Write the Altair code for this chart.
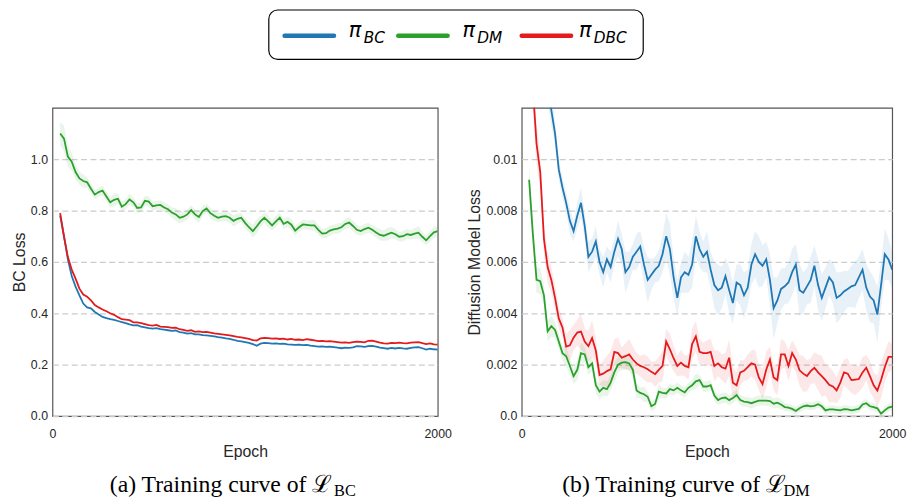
import altair as alt
import pandas as pd

# ---------------- data ----------------
EPOCHS = list(range(40, 2001, 20))
SERIES = ["BC", "DM", "DBC"]
COLORS = ["#1f77b4", "#2ca02c", "#e41a1c"]

# (a) BC loss
BC_LOSS_BC = [0.78, 0.70, 0.61, 0.545, 0.504, 0.47, 0.438, 0.423, 0.419, 0.405,
              0.395, 0.386, 0.381, 0.377, 0.374, 0.37, 0.366, 0.362, 0.357, 0.353,
              0.354, 0.348, 0.345, 0.342, 0.34, 0.342, 0.338, 0.336, 0.334, 0.332,
              0.333, 0.327, 0.325, 0.321, 0.323, 0.318, 0.318, 0.315, 0.314, 0.312,
              0.31, 0.307, 0.305, 0.302, 0.30, 0.297, 0.293, 0.291, 0.288, 0.285,
              0.28, 0.274, 0.282, 0.285, 0.284, 0.282, 0.283, 0.281, 0.282, 0.279,
              0.278, 0.277, 0.278, 0.276, 0.277, 0.274, 0.272, 0.27, 0.271, 0.269,
              0.27, 0.268, 0.266, 0.264, 0.266, 0.265, 0.267, 0.272, 0.271, 0.269,
              0.272, 0.273, 0.27, 0.266, 0.264, 0.262, 0.265, 0.263, 0.265, 0.263,
              0.262, 0.265, 0.267, 0.268, 0.264, 0.259, 0.262, 0.26, 0.259]
BC_LOSS_DM = [1.10, 1.08, 1.01, 0.99, 0.95, 0.925, 0.915, 0.91, 0.885, 0.862,
              0.872, 0.878, 0.855, 0.832, 0.842, 0.846, 0.815, 0.825, 0.843, 0.832,
              0.81, 0.812, 0.838, 0.835, 0.817, 0.82, 0.822, 0.812, 0.805, 0.792,
              0.785, 0.772, 0.776, 0.785, 0.802, 0.785, 0.775, 0.798, 0.808, 0.79,
              0.78, 0.772, 0.776, 0.778, 0.772, 0.76, 0.768, 0.772, 0.752, 0.735,
              0.72, 0.738, 0.758, 0.772, 0.758, 0.742, 0.758, 0.772, 0.748, 0.756,
              0.745, 0.722, 0.735, 0.746, 0.744, 0.742, 0.742, 0.725, 0.71, 0.712,
              0.722, 0.727, 0.73, 0.735, 0.748, 0.753, 0.74, 0.725, 0.72, 0.728,
              0.733, 0.725, 0.715, 0.705, 0.702, 0.708, 0.714, 0.708, 0.698, 0.70,
              0.708, 0.705, 0.71, 0.714, 0.698, 0.684, 0.70, 0.715, 0.72]
BC_LOSS_DBC = [0.79, 0.698, 0.619, 0.57, 0.535, 0.496, 0.473, 0.465, 0.45, 0.432,
               0.423, 0.415, 0.408, 0.40, 0.394, 0.385, 0.377, 0.375, 0.373, 0.365,
               0.365, 0.362, 0.358, 0.354, 0.352, 0.355, 0.348, 0.347, 0.346, 0.343,
               0.344, 0.338, 0.335, 0.332, 0.334, 0.328, 0.33, 0.327, 0.328, 0.325,
               0.322, 0.32, 0.318, 0.316, 0.314, 0.311, 0.308, 0.306, 0.303, 0.30,
               0.296, 0.294, 0.302, 0.304, 0.303, 0.301, 0.302, 0.30, 0.301, 0.298,
               0.30, 0.297, 0.298, 0.296, 0.299, 0.297, 0.295, 0.292, 0.293, 0.291,
               0.292, 0.29, 0.288, 0.286, 0.287, 0.285, 0.288, 0.29, 0.289, 0.287,
               0.293, 0.294, 0.29, 0.286, 0.283, 0.282, 0.285, 0.284, 0.286, 0.284,
               0.283, 0.286, 0.287, 0.288, 0.284, 0.28, 0.283, 0.279, 0.278]
BC_SPREAD_DM = [0.045, 0.05, 0.04, 0.035, 0.03, 0.025, 0.025, 0.02, 0.02, 0.018,
                0.018, 0.02, 0.018, 0.02, 0.025, 0.02, 0.018, 0.02, 0.022, 0.018,
                0.02, 0.018, 0.02, 0.02, 0.018, 0.016, 0.018, 0.02, 0.018, 0.02,
                0.025, 0.022, 0.02, 0.02, 0.018, 0.02, 0.022, 0.02, 0.018, 0.02,
                0.02, 0.018, 0.018, 0.02, 0.02, 0.022, 0.02, 0.018, 0.02, 0.02,
                0.025, 0.028, 0.022, 0.02, 0.025, 0.02, 0.022, 0.018, 0.02, 0.02,
                0.022, 0.02, 0.018, 0.02, 0.018, 0.02, 0.022, 0.02, 0.018, 0.02,
                0.02, 0.018, 0.02, 0.018, 0.02, 0.022, 0.02, 0.02, 0.018, 0.02,
                0.02, 0.018, 0.02, 0.022, 0.02, 0.025, 0.022, 0.02, 0.018, 0.02,
                0.02, 0.018, 0.022, 0.025, 0.02, 0.018, 0.02, 0.022, 0.02]

# (b) diffusion model loss, in units of 1e-3
DM_LOSS_BC = [25, 21, 18, 16, 14.5, 13, 11.9, 11.0, 9.6, 8.9,
              8.3, 7.6, 7.2, 7.8, 8.3, 7.4, 6.2, 6.4, 6.8, 6.0,
              5.6, 6.1, 5.8, 6.4, 6.9, 6.5, 5.6, 5.8, 6.2, 6.4,
              6.6, 5.9, 5.3, 5.5, 5.7, 5.85, 6.3, 7.0, 6.5, 5.4,
              4.6, 5.4, 5.6, 5.5, 5.9, 7.0, 6.5, 6.2, 6.4, 5.7,
              5.1, 4.9, 5.0, 5.45, 4.9, 4.4, 5.2, 5.1, 4.7, 5.0,
              5.9, 6.3, 6.0, 5.85, 6.1, 5.3, 4.2, 4.5, 4.95, 5.05,
              5.2, 5.6, 5.9, 4.9, 4.8, 5.05, 5.3, 5.85, 5.1, 4.6,
              5.0, 5.4, 5.2, 4.6, 4.7, 4.85, 4.95, 5.05, 5.1, 5.4,
              5.7, 5.0, 4.65, 4.5, 3.95, 5.1, 6.3, 6.1, 5.7]
DM_LOSS_DM = [9.2, 7.1, 5.3, 5.25, 4.7, 3.3, 3.5, 3.35, 2.9, 2.45,
              2.33, 1.95, 1.55, 1.8, 2.45, 2.4, 1.9, 2.05, 1.2, 0.95,
              1.1, 1.05, 1.3, 1.7, 2.0, 2.08, 2.1, 2.05, 1.8, 1.0,
              0.9, 0.85, 0.75, 0.38, 0.47, 0.95, 0.9, 0.88, 1.05, 1.0,
              1.1, 1.0, 0.92, 1.1, 1.2, 1.35, 1.4, 1.15, 1.15, 1.2,
              0.8, 0.62, 0.7, 0.72, 0.62, 0.7, 0.82, 0.62, 0.56, 0.54,
              0.5, 0.55, 0.6, 0.6, 0.6, 0.58, 0.48, 0.52, 0.45, 0.35,
              0.33, 0.28, 0.2, 0.3, 0.38, 0.41, 0.38, 0.4, 0.46, 0.38,
              0.22, 0.26, 0.26, 0.24, 0.22, 0.27, 0.26, 0.22, 0.25, 0.28,
              0.45, 0.5, 0.38, 0.35, 0.3, 0.09, 0.22, 0.33, 0.37]
DM_LOSS_DBC = [15.5, 12.8, 10.6, 9.5, 6.9, 5.8, 5.3, 4.6, 3.8, 3.45,
               2.7, 2.75, 3.05, 3.25, 3.29, 2.9, 2.72, 3.04, 2.55, 1.6,
               1.65, 1.75, 1.82, 2.5, 2.45, 2.27, 2.33, 2.4, 2.2, 2.05,
               1.95, 1.9, 1.82, 1.72, 1.63, 1.8, 1.95, 2.9, 2.6, 2.25,
               1.95, 2.08, 1.95, 1.9, 2.8, 3.1, 2.5, 2.45, 2.45, 2.5,
               1.95, 2.05, 1.9, 1.85, 2.27, 1.3, 1.2, 1.7, 1.76, 1.9,
               2.05, 2.0, 1.5, 1.24, 1.8, 2.2, 1.5, 1.4, 2.4, 2.4,
               1.95, 2.45, 2.2, 1.78, 1.65, 1.56, 1.75, 1.88, 1.7, 1.55,
               1.4, 1.22, 1.15, 1.0, 1.3, 1.7, 1.65, 1.4, 1.42, 1.44,
               1.7, 1.88, 1.55, 1.2, 0.99, 1.4, 1.9, 2.3, 2.3]
DM_SPREAD_BC = [0.8, 0.8, 0.8, 0.8, 0.8, 0.8, 0.6, 0.5, 0.4, 0.4,
                0.4, 0.5, 0.4, 0.5, 0.6, 0.5, 0.6, 0.5, 0.6, 0.5,
                0.6, 0.5, 0.6, 0.5, 0.7, 0.6, 0.8, 0.6, 0.5, 0.7,
                0.6, 0.7, 0.9, 0.6, 0.5, 0.6, 0.7, 0.9, 1.0, 0.8,
                0.7, 0.6, 0.8, 0.7, 0.9, 0.8, 0.7, 0.6, 0.8, 0.7,
                0.9, 1.0, 0.8, 0.7, 0.9, 0.8, 0.7, 0.8, 0.9, 0.7,
                0.8, 0.9, 1.0, 0.8, 0.7, 1.0, 1.2, 0.9, 0.8, 0.7,
                0.8, 0.9, 0.8, 1.0, 0.8, 0.7, 0.9, 0.8, 1.0, 0.9,
                0.8, 0.7, 0.8, 1.0, 0.9, 0.8, 0.7, 0.8, 0.9, 0.8,
                0.8, 0.9, 1.0, 0.9, 1.1, 0.9, 1.0, 0.8, 0.7]
DM_SPREAD_DM = [0.6, 0.5, 0.5, 0.5, 0.4, 0.4, 0.4, 0.3, 0.3, 0.3,
                0.4, 0.3, 0.3, 0.4, 0.4, 0.3, 0.3, 0.3, 0.3, 0.3,
                0.3, 0.3, 0.3, 0.4, 0.3, 0.3, 0.3, 0.3, 0.3, 0.3,
                0.2, 0.3, 0.2, 0.2, 0.2, 0.3, 0.2, 0.2, 0.2, 0.2,
                0.2, 0.2, 0.2, 0.2, 0.2, 0.3, 0.2, 0.2, 0.2, 0.2,
                0.2, 0.2, 0.2, 0.2, 0.2, 0.2, 0.2, 0.2, 0.2, 0.2,
                0.2, 0.2, 0.2, 0.2, 0.2, 0.2, 0.2, 0.2, 0.2, 0.15,
                0.15, 0.15, 0.15, 0.15, 0.15, 0.15, 0.15, 0.15, 0.15, 0.15,
                0.15, 0.15, 0.15, 0.15, 0.15, 0.15, 0.15, 0.15, 0.15, 0.15,
                0.15, 0.15, 0.15, 0.15, 0.15, 0.1, 0.15, 0.15, 0.15]
DM_SPREAD_DBC = [0.8, 0.8, 0.8, 0.7, 0.6, 0.6, 0.5, 0.5, 0.4, 0.4,
                 0.5, 0.6, 0.5, 0.5, 0.7, 0.5, 0.6, 0.7, 0.5, 0.4,
                 0.5, 0.6, 0.7, 0.5, 0.6, 0.4, 0.5, 0.6, 0.5, 0.4,
                 0.4, 0.5, 0.5, 0.4, 0.5, 0.5, 0.6, 0.5, 0.6, 0.5,
                 0.4, 0.5, 0.4, 0.5, 0.6, 0.6, 0.5, 0.4, 0.5, 0.5,
                 0.6, 0.5, 0.5, 0.6, 0.7, 0.6, 0.5, 0.5, 0.4, 0.5,
                 0.5, 0.6, 0.5, 0.6, 0.7, 0.5, 0.5, 0.6, 0.6, 0.5,
                 0.6, 0.5, 0.5, 0.6, 0.7, 0.6, 0.5, 0.6, 0.7, 0.8,
                 0.6, 0.7, 0.6, 0.5, 0.6, 0.5, 0.6, 0.5, 0.6, 0.5,
                 0.6, 0.5, 0.6, 0.5, 0.6, 0.7, 0.6, 0.6, 0.5]

CAPTIONS = ["(a) Training curve of \u2112", "(b) Training curve of \u2112"]
CAPTION_SUBS = ["BC", "DM"]
LEGEND_SYMBOL = "\u03c0"

# ---------------- tables ----------------
def long_table(series_values, spreads, scale=1.0):
    rows = []
    for s, vals in zip(SERIES, series_values):
        sp = spreads.get(s)
        for i, (e, v) in enumerate(zip(EPOCHS, vals)):
            row = {"epoch": e, "series": s, "value": v * scale}
            if sp is not None:
                row["lo"] = (v - sp[i]) * scale
                row["hi"] = (v + sp[i]) * scale
            rows.append(row)
    return pd.DataFrame(rows)

df_a = long_table([BC_LOSS_BC, BC_LOSS_DM, BC_LOSS_DBC], {"DM": BC_SPREAD_DM})
df_b = long_table([DM_LOSS_BC, DM_LOSS_DM, DM_LOSS_DBC],
                  {"BC": DM_SPREAD_BC, "DM": DM_SPREAD_DM, "DBC": DM_SPREAD_DBC}, 1e-3)

color_scale = alt.Scale(domain=SERIES, range=COLORS)
AXIS_FONT = "Liberation Sans"
TXT = "#262626"

def x_enc():
    return alt.X("epoch:Q",
                 scale=alt.Scale(domain=[0, 2000], nice=False, zero=False),
                 axis=alt.Axis(values=[0, 2000], grid=False, title="Epoch", format="d",
                               labelPadding=12, titlePadding=3, labelFlush=False))

def panel(df, ydom, yvals, ytitle, label_expr):
    ysc = alt.Scale(domain=ydom, nice=False, zero=False)
    yax = alt.Axis(values=yvals, title=ytitle, labelExpr=label_expr, grid=True,
                   labelPadding=5, titlePadding=3)
    base = alt.Chart(df)
    band = base.transform_filter("isValid(datum.lo)").mark_area(
        opacity=0.1, clip=True).encode(
        x=x_enc(), y=alt.Y("lo:Q", scale=ysc, axis=yax), y2="hi:Q",
        color=alt.Color("series:N", scale=color_scale, legend=None))
    line = base.mark_line(strokeWidth=1.8, clip=True).encode(
        x=x_enc(), y=alt.Y("value:Q", scale=ysc, axis=yax),
        color=alt.Color("series:N", scale=color_scale, legend=None),
        order=alt.Order("epoch:Q"))
    return band, line

band_a, line_a = panel(df_a, [0, 1.2], [0, 0.2, 0.4, 0.6, 0.8, 1.0], "BC Loss",
                       "format(datum.value, '.1f')")
band_b, line_b = panel(df_b, [0, 0.012], [0, 0.002, 0.004, 0.006, 0.008, 0.01],
                       "Diffusion Model Loss",
                       "datum.value == 0 ? '0.0' : (datum.value > 0.0095 ? '0.01' : format(datum.value, '.3f'))")

# ---------------- legend (drawn in panel a coordinates) ----------------
one = pd.DataFrame({"k": [0]})
leg_box = alt.Chart(one).mark_rect(fill="white", stroke="black", strokeWidth=1.2,
                                   cornerRadius=9).encode(
    x=alt.value(219), x2=alt.value(598), y=alt.value(-99), y2=alt.value(-49))
LEG_LINE_X = [235, 350, 475]
LEG_SYM_X = [300, 415, 533]
leg_layers = [leg_box]
for i, s in enumerate(SERIES):
    d = pd.DataFrame({"sym": [LEGEND_SYMBOL], "sub": [s]})
    leg_layers.append(alt.Chart(d).mark_rule(strokeWidth=4.5, strokeCap="round").encode(
        x=alt.value(LEG_LINE_X[i]), x2=alt.value(LEG_LINE_X[i] + 50),
        y=alt.value(-73), color=alt.value(COLORS[i])))
    leg_layers.append(alt.Chart(d).mark_text(
        align="left", baseline="alphabetic", font="DejaVu Sans", fontStyle="italic",
        fontSize=21, color="black").encode(
        x=alt.value(LEG_SYM_X[i]), y=alt.value(-72), text="sym:N"))
    leg_layers.append(alt.Chart(d).mark_text(
        align="left", baseline="alphabetic", font="DejaVu Sans", fontStyle="italic",
        fontSize=15.5, color="black").encode(
        x=alt.value(LEG_SYM_X[i] + 15), y=alt.value(-66), text="sub:N"))

# ---------------- captions ----------------
def caption(i, x_main, x_sub):
    d = pd.DataFrame({"main": [CAPTIONS[i]], "sub": [CAPTION_SUBS[i]]})
    m = alt.Chart(d).mark_text(align="left", baseline="alphabetic",
                               font="Liberation Serif", fontSize=24, color="black").encode(
        x=alt.value(x_main), y=alt.value(389), text="main:N")
    s = alt.Chart(d).mark_text(align="left", baseline="alphabetic",
                               font="Liberation Serif", fontSize=16.5, color="black").encode(
        x=alt.value(x_sub), y=alt.value(393), text="sub:N")
    return [m, s]

left = alt.layer(band_a, line_a, *caption(0, 58, 285), *leg_layers).properties(
    width=390, height=312)
right = alt.layer(band_b, line_b, *caption(1, 41, 265)).properties(
    width=375, height=312)

chart = alt.hconcat(left, right, spacing=85, bounds="flush").configure(
    padding={"left": 3, "top": -3, "right": 0, "bottom": 0}
).configure_view(
    stroke="#555555", strokeWidth=1.2
).configure_axis(
    labelFont=AXIS_FONT, labelFontSize=12.5, labelColor=TXT,
    titleFont=AXIS_FONT, titleFontSize=16, titleFontWeight="normal", titleColor=TXT,
    gridColor="#cccccc", gridDash=[6, 3.5], gridWidth=1.2,
    domain=False, ticks=False, tickSize=0
)

chart.save("out.html", embed_options={"renderer": "svg", "actions": False})
